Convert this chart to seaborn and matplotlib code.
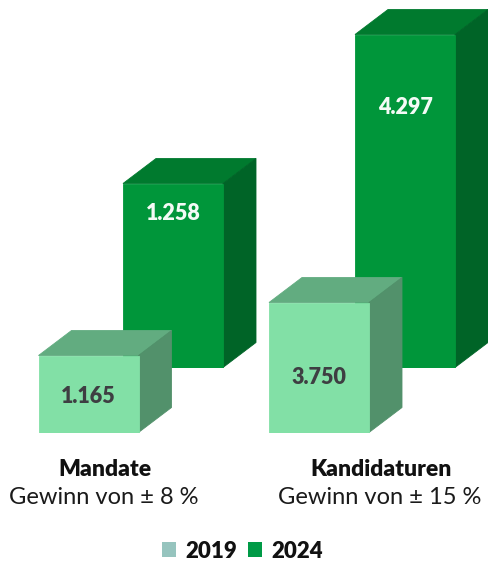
import matplotlib
matplotlib.use("Agg")
import matplotlib.pyplot as plt
from matplotlib.patches import Polygon, Patch
import seaborn as sns

categories = ["Mandate", "Kandidaturen"]
subtitles = ["Gewinn von ± 8 %", "Gewinn von ± 15 %"]
years = ["2019", "2024"]
# drawn bar heights (the picture's bars are not proportional to their labels)
heights_2019 = [77, 130]
heights_2024 = [184, 333]
labels_2019 = ["1.165", "3.750"]
labels_2024 = ["1.258", "4.297"]

W, H = 489, 562
sns.set_theme(style="white")
plt.rcParams["font.family"] = ["Lato", "DejaVu Sans"]
fig = plt.figure(figsize=(W / 100, H / 100), dpi=100, facecolor="white")


def box_series(base_px, center0, spacing, heights, labels, label_y, colors, txt, z):
    left = center0 - spacing / 2
    ax = fig.add_axes([left / W, (H - base_px) / H, 2 * spacing / W, base_px / H], zorder=z)
    ax.patch.set_visible(False)
    sns.barplot(x=categories, y=heights, color=colors[0], saturation=1, width=100 / spacing,
                linewidth=0, ax=ax)
    ax.set_xlim(-0.5, 1.5)
    ax.set_ylim(0, base_px)
    ax.axis("off")
    dx, dy = 33 / spacing, 25
    for bar, lab, ly in zip(ax.patches[:len(labels)], labels, label_y):
        x0, x1 = bar.get_x(), bar.get_x() + bar.get_width()
        t = bar.get_height()
        ax.add_patch(Polygon([(x0, t), (x1, t), (x1 + dx, t + dy), (x0 + dx, t + dy)],
                             closed=True, fc=colors[1], ec=colors[1], lw=0.6, clip_on=False, zorder=1))
        ax.add_patch(Polygon([(x1, 0), (x1 + dx, dy), (x1 + dx, t + dy), (x1, t)],
                             closed=True, fc=colors[2], ec=colors[2], lw=0.6, clip_on=False, zorder=1))
        bar.set_zorder(2)
        bar.set_edgecolor(colors[0])
        bar.set_linewidth(0.6)
        ax.text((x0 + x1) / 2, ly, lab, ha="center", va="center", color=txt,
                fontsize=15.5, fontweight="heavy", zorder=3)
    return ax


box_series(367.5, 173, 232, heights_2024, labels_2024, [154, 260],
           ["#00963A", "#007A2E", "#006427"], "#F4FBF6", 1)
box_series(432.5, 88.5, 230.5, heights_2019, labels_2019, [36, 55],
           ["#82E0A6", "#62AC80", "#52916B"], "#3E3E42", 2)

for cx, cat in zip([105, 381], categories):
    fig.text(cx / W, 1 - 469 / H, cat, ha="center", va="center", fontsize=16.5,
             fontweight="heavy", color="#111111")
for cx, sub in zip([104, 380], subtitles):
    fig.text(cx / W, 1 - 498 / H, sub, ha="center", va="center", fontsize=17, color="#1A1A1A")

handles = [Patch(fc="#96C4BE", ec="none"), Patch(fc="#009A46", ec="none")]
leg = fig.legend(handles, years, loc="center", bbox_to_anchor=(242.5 / W, 1 - 551 / H), ncol=2,
                 frameon=False, handlelength=0.63, handleheight=0.63, handletextpad=0.45,
                 columnspacing=0.45, borderpad=0,
                 prop={"family": "Lato", "weight": "heavy", "size": 16})
for t in leg.get_texts():
    t.set_color("#111111")

fig.savefig("out.png", dpi=100, facecolor="white")
